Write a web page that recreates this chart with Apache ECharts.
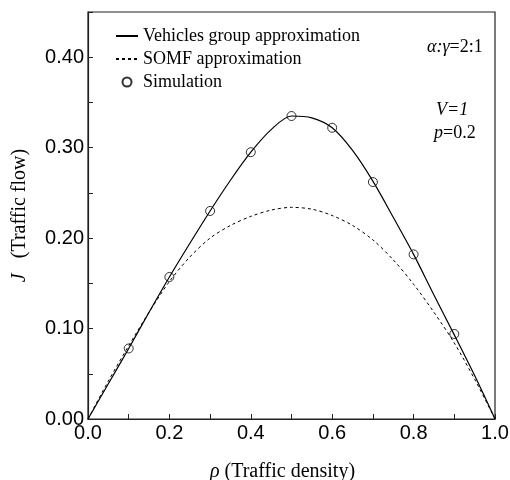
<!DOCTYPE html>
<html>
<head>
<meta charset="utf-8">
<script src="https://cdn.jsdelivr.net/npm/echarts@6/dist/echarts.min.js"></script>
<style>
  html, body { margin: 0; padding: 0; background: #fff; }
  #chart { width: 510px; height: 480px; }
</style>
</head>
<body>
<div id="chart"></div>
<script>
// traffic density samples for the two approximation curves
const density = [0, 0.05, 0.1, 0.15, 0.2, 0.25, 0.3, 0.35, 0.4, 0.45, 0.5,
  0.55, 0.6, 0.65, 0.7, 0.75, 0.8, 0.85, 0.9, 0.95, 1.0];
const vgFlow = [0, 0.039, 0.078, 0.118, 0.157, 0.194, 0.230, 0.264, 0.295, 0.320, 0.335,
  0.333, 0.322, 0.297, 0.263, 0.223, 0.182, 0.137, 0.093, 0.048, 0];
const somfFlow = [0, 0.042, 0.081, 0.118, 0.152, 0.179, 0.200, 0.214, 0.224, 0.231, 0.234,
  0.232, 0.225, 0.214, 0.198, 0.176, 0.149, 0.118, 0.084, 0.044, 0];
// simulation points
const simDensity = [0.1, 0.2, 0.3, 0.4, 0.5, 0.6, 0.7, 0.8, 0.9];
const simFlow = [0.078, 0.157, 0.230, 0.295, 0.335, 0.322, 0.262, 0.182, 0.094];

const serif = "Liberation Serif";
const sans = "Liberation Sans";

const chart = echarts.init(document.getElementById("chart"), null, { renderer: "canvas" });

const italic = { fontFamily: serif, fontStyle: "italic", color: "#000" };

const option = {
  animation: false,
  grid: {
    left: 88,
    right: 15,
    top: 12,
    bottom: 61,
    containLabel: false,
    outerBoundsMode: "none",
    show: true,
    borderColor: "#222",
    borderWidth: 1.2
  },
  legend: {
    orient: "vertical",
    left: 110,
    top: 22,
    itemWidth: 22,
    itemHeight: 9,
    itemGap: 5,
    textStyle: { fontFamily: serif, fontSize: 18, color: "#000" },
    data: [
      { name: "Vehicles group approximation", itemStyle: { opacity: 0 } },
      { name: "SOMF approximation", itemStyle: { opacity: 0 } },
      { name: "Simulation" }
    ]
  },
  xAxis: {
    type: "value",
    min: 0,
    max: 1,
    interval: 0.1,
    name: "{i|ρ} (Traffic density)",
    nameLocation: "middle",
    nameGap: 43,
    nameTextStyle: {
      fontFamily: serif,
      fontSize: 20,
      color: "#000",
      padding: [0, 18, 0, 0],
      rich: { i: Object.assign({ fontSize: 20 }, italic) }
    },
    axisLine: { lineStyle: { color: "#222", width: 1.2 } },
    axisTick: { inside: true, length: 5, lineStyle: { color: "#222" } },
    splitLine: { show: false },
    axisLabel: {
      margin: 4,
      fontFamily: sans,
      fontSize: 20,
      color: "#000",
      formatter: v => (Math.round(v * 10) % 2 === 0 ? v.toFixed(1) : "")
    }
  },
  yAxis: {
    type: "value",
    min: 0,
    max: 0.45,
    interval: 0.05,
    name: "{i|J}   (Traffic flow)",
    nameLocation: "middle",
    nameRotate: 90,
    nameGap: 58,
    nameTextStyle: {
      fontFamily: serif,
      fontSize: 20,
      color: "#000",
      rich: { i: Object.assign({ fontSize: 20 }, italic) }
    },
    axisLine: { show: true, lineStyle: { color: "#222", width: 1.2 } },
    axisTick: { show: true, inside: true, length: 5, lineStyle: { color: "#222" } },
    splitLine: { show: false },
    axisLabel: {
      margin: 4,
      fontFamily: sans,
      fontSize: 20,
      color: "#000",
      formatter: v => (Math.round(v * 20) % 2 === 0 ? v.toFixed(2) : "")
    }
  },
  graphic: [
    {
      type: "text",
      left: 427,
      top: 38,
      style: {
        text: "{i|α:γ}=2:1",
        font: "18px " + serif,
        fill: "#000",
        rich: { i: { fontFamily: serif, fontSize: 18, fontStyle: "italic", fill: "#000" } }
      }
    },
    {
      type: "text",
      left: 436,
      top: 101,
      style: { text: "V=1", font: "italic 18px " + serif, fill: "#000" }
    },
    {
      type: "text",
      left: 434,
      top: 124,
      style: {
        text: "{i|p}=0.2",
        font: "18px " + serif,
        fill: "#000",
        rich: { i: { fontFamily: serif, fontSize: 18, fontStyle: "italic", fill: "#000" } }
      }
    }
  ],
  series: [
    {
      name: "Vehicles group approximation",
      type: "line",
      smooth: 0.3,
      symbol: "none",
      lineStyle: { color: "#000", width: 1.2 },
      itemStyle: { color: "#000" },
      data: density.map((x, i) => [x, vgFlow[i]])
    },
    {
      name: "SOMF approximation",
      type: "line",
      smooth: 0.3,
      symbol: "none",
      lineStyle: { color: "#000", width: 1, type: [3, 3] },
      itemStyle: { color: "#000" },
      data: density.map((x, i) => [x, somfFlow[i]])
    },
    {
      name: "Simulation",
      type: "scatter",
      symbol: "circle",
      symbolSize: 9,
      itemStyle: { color: "rgba(255,255,255,0)", borderColor: "#000", borderWidth: 1 },
      data: simDensity.map((x, i) => [x, simFlow[i]])
    }
  ]
};

chart.setOption(option);
</script>
</body>
</html>
